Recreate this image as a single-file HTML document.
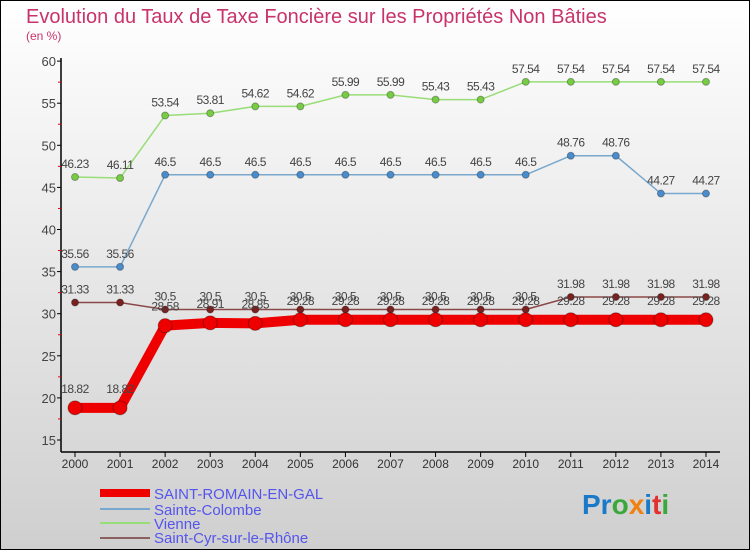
<!DOCTYPE html>
<html><head><meta charset="utf-8"><style>
body{margin:0;width:750px;height:550px;overflow:hidden;font-family:"Liberation Sans",sans-serif}
</style></head><body>
<svg id="chart" width="750" height="550" xmlns="http://www.w3.org/2000/svg" style="font-family:'Liberation Sans',sans-serif">
<defs><linearGradient id="bg" x1="0" y1="0" x2="0" y2="1"><stop offset="0" stop-color="#ffffff"/><stop offset="1" stop-color="#cfcfcf"/></linearGradient></defs>
<rect x="0.5" y="0.5" width="749" height="549" fill="url(#bg)" stroke="#000"/>
<text x="26" y="23" font-size="20" fill="#c8336a">Evolution du Taux de Taxe Foncière sur les Propriétés Non Bâties</text>
<text x="26" y="40" font-size="12" fill="#c8336a">(en %)</text>
<g id="axes"></g><g id="series"></g>
<g font-size="15" fill="#5555ee">
<rect x="100" y="489" width="50" height="8" fill="#e00"/>
<text x="154" y="499">SAINT-ROMAIN-EN-GAL</text>
<rect x="100" y="508" width="50" height="2" fill="#79a8cc"/>
<text x="154" y="515">Sainte-Colombe</text>
<rect x="100" y="522" width="50" height="2" fill="#99dd77"/>
<text x="154" y="529">Vienne</text>
<rect x="100" y="537" width="50" height="2" fill="#8b6060"/>
<text x="154" y="543">Saint-Cyr-sur-le-Rhône</text>
</g>
<g font-size="28" font-weight="bold">
<text x="582" y="514"><tspan fill="#1a7ac8">Pr</tspan><tspan fill="#3aa83a">o</tspan><tspan fill="#f08010">x</tspan><tspan fill="#1a7ac8">i</tspan><tspan fill="#e03030">t</tspan><tspan fill="#3aa83a">i</tspan></text>
</g>
</svg>
<script>
const years=[2000,2001,2002,2003,2004,2005,2006,2007,2008,2009,2010,2011,2012,2013,2014];
const yTicks=[15,20,25,30,35,40,45,50,55,60];
const saintRomain=[18.82,18.82,28.58,28.91,28.85,29.28,29.28,29.28,29.28,29.28,29.28,29.28,29.28,29.28,29.28];
const sainteColombe=[35.56,35.56,46.5,46.5,46.5,46.5,46.5,46.5,46.5,46.5,46.5,48.76,48.76,44.27,44.27];
const vienne=[46.23,46.11,53.54,53.81,54.62,54.62,55.99,55.99,55.43,55.43,57.54,57.54,57.54,57.54,57.54];
const saintCyr=[31.33,31.33,30.5,30.5,30.5,30.5,30.5,30.5,30.5,30.5,30.5,31.98,31.98,31.98,31.98];
const NS='http://www.w3.org/2000/svg';
const x=i=>75+i*45.07;
const y=v=>440-(v-15)*8.42;
function mk(tag,attrs,parent){const e=document.createElementNS(NS,tag);for(const k in attrs)e.setAttribute(k,attrs[k]);parent.appendChild(e);return e;}
const ax=document.getElementById('axes');
const yAxis=mk('line',{x1:61,y1:58,x2:61,y2:452,stroke:'#000','stroke-width':1.5},ax);


const xAxis=mk('line',{x1:61,y1:452,x2:720,y2:452,stroke:'#000','stroke-width':1.5},ax);


yTicks.forEach((t,i)=>{
  mk('line',{x1:57,y1:y(t),x2:61,y2:y(t),stroke:'#000'},ax);
  if(i<yTicks.length-1)mk('line',{x1:58,y1:y(t+2.5),x2:61,y2:y(t+2.5),stroke:'#e00'},ax);
  const tx=mk('text',{x:56,y:y(t)+5,'font-size':13,fill:'#444','text-anchor':'end'},ax);tx.textContent=t;
  
  
});
years.forEach((yr,i)=>{
  mk('line',{x1:x(i),y1:452,x2:x(i),y2:457,stroke:'#000'},ax);
  const tx=mk('text',{x:x(i),y:468,'font-size':12,fill:'#333','text-anchor':'middle'},ax);tx.textContent=yr;
  
  
});
const sg=document.getElementById('series');
function series(name,vals,color,dot,w,r,dy){
  const g=mk('g',{},sg);
  
  
  const pl=mk('polyline',{points:vals.map((v,i)=>x(i)+','+y(v)).join(' '),fill:'none',stroke:color,'stroke-width':w,'stroke-linejoin':'round'},g);
  
  
  vals.forEach((v,i)=>{
    const c=mk('circle',{cx:x(i),cy:y(v),r:r,fill:dot,stroke:'rgba(0,0,0,0.3)'},g);
    
    
    const t=mk('text',{x:x(i),y:y(v)+dy,'font-size':12,fill:'#444','text-anchor':'middle','letter-spacing':'-0.5'},g);t.textContent=v;
    
    
  });
}
series('sainte-colombe',sainteColombe,'#79a8cc','#4a8ccc',1.5,3.5,-9);
series('vienne',vienne,'#99dd77','#77cc44',1.5,3.5,-9);
series('saint-cyr',saintCyr,'#8b4848','#7a2020',1.5,3.5,-9);
series('saint-romain',saintRomain,'#e00','#e00',10,7,-15);
</script>
</body></html>
